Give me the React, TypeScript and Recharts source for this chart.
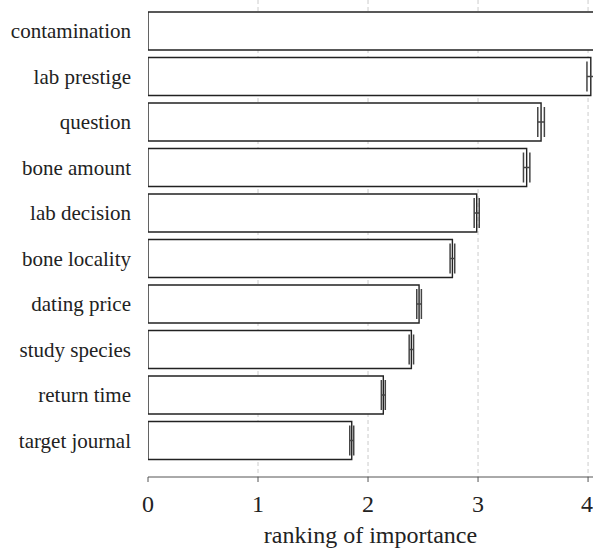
import { BarChart, Bar, XAxis, YAxis, CartesianGrid, ErrorBar } from 'recharts';

const factors = [
  'contamination',
  'lab prestige',
  'question',
  'bone amount',
  'lab decision',
  'bone locality',
  'dating price',
  'study species',
  'return time',
  'target journal',
];
const importance = [4.3, 4.025, 3.573, 3.442, 2.988, 2.767, 2.464, 2.394, 2.139, 1.852];
const spread = [0.03, 0.035, 0.03, 0.029, 0.023, 0.021, 0.021, 0.02, 0.018, 0.018];
const xTicks = [0, 1, 2, 3, 4];

const data = factors.map((name, i) => ({ name, value: importance[i], err: spread[i] }));

const FONT = '"Liberation Serif", "Times New Roman", serif';

export default function App() {
  return (
    <div style={{ position: 'absolute', left: 0, top: 0, background: '#fff', fontFamily: FONT }}>
      <BarChart
        width={593}
        height={549}
        data={data}
        layout="vertical"
        margin={{ top: 0, right: 0, bottom: 0, left: 0 }}
      >
        <CartesianGrid
          horizontal={false}
          stroke="#cccccc"
          strokeDasharray="4 3"
          verticalValues={[1, 2, 3, 4]}
        />
        <XAxis
          type="number"
          domain={[0, 4.045]}
          ticks={xTicks}
          allowDataOverflow
          height={72}
          tickSize={5}
          tickMargin={13}
          stroke="#555"
          tick={{ fontSize: 24, fill: '#222', fontFamily: FONT }}
          label={{
            value: 'ranking of importance',
            position: 'insideBottom',
            offset: 6,
            fontSize: 24,
            fill: '#222',
            fontFamily: FONT,
          }}
        />
        <YAxis
          type="category"
          dataKey="name"
          width={148}
          axisLine={false}
          tickLine={false}
          tickMargin={11}
          padding={{ top: 8, bottom: 14 }}
          tick={{ fontSize: 21, fill: '#222', fontFamily: FONT }}
        />
        <Bar
          dataKey="value"
          fill="#fff"
          stroke="#222"
          strokeWidth={1.4}
          barSize={38}
          isAnimationActive={false}
        >
          <ErrorBar dataKey="err" direction="x" width={15} stroke="#444" strokeWidth={1.5} />
        </Bar>
      </BarChart>
    </div>
  );
}
